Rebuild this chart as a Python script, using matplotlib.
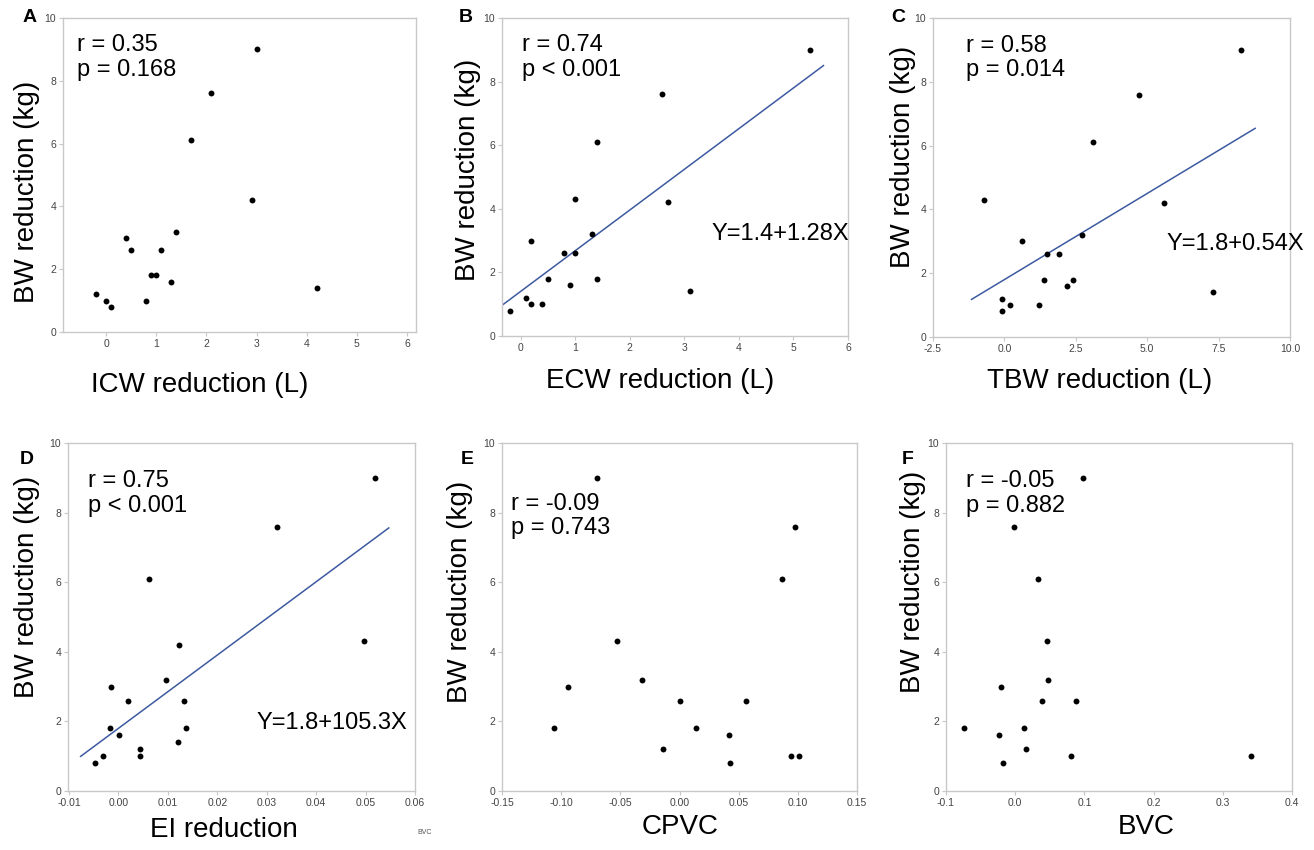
import numpy as np
import matplotlib.pyplot as plt

plt.rcParams['font.family'] = ['Liberation Sans', 'DejaVu Sans']

# Data
bw_a = [1.2, 1.0, 0.8, 3.0, 2.6, 1.0, 1.8, 1.8, 2.6, 1.6, 3.2, 6.1, 7.6, 4.2, 9.0, 1.4]
icw = [-0.2, 0.0, 0.1, 0.4, 0.5, 0.8, 0.9, 1.0, 1.1, 1.3, 1.4, 1.7, 2.1, 2.9, 3.0, 4.2]

bw_b = [0.8, 1.2, 1.0, 1.0, 3.0, 1.8, 2.6, 1.6, 2.6, 4.3, 3.2, 1.8, 6.1, 7.6, 4.2, 1.4, 9.0]
ecw = [-0.2, 0.1, 0.2, 0.4, 0.2, 0.5, 0.8, 0.9, 1.0, 1.0, 1.3, 1.4, 1.4, 2.6, 2.7, 3.1, 5.3]

bw_c = [4.3, 1.2, 0.8, 1.0, 3.0, 1.0, 1.8, 2.6, 2.6, 1.6, 1.8, 3.2, 6.1, 7.6, 4.2, 1.4, 9.0]
tbw = [-0.7, -0.1, -0.1, 0.2, 0.6, 1.2, 1.4, 1.5, 1.9, 2.2, 2.4, 2.7, 3.1, 4.7, 5.6, 7.3, 8.3]

bw_d = [0.8, 1.0, 3.0, 1.8, 1.6, 2.6, 1.2, 1.0, 6.1, 3.2, 1.4, 4.2, 2.6, 1.8, 7.6, 4.3, 9.0]
ei = [-0.0048, -0.0031, -0.0014, -0.0018, 0.0001, 0.0019, 0.0044, 0.0044, 0.0062,
      0.0097, 0.0121, 0.0123, 0.0133, 0.0136, 0.0320, 0.0497, 0.0519]

bw_e = [1.8, 3.0, 9.0, 4.3, 3.2, 1.2, 2.6, 1.8, 1.6, 0.8, 2.6, 6.1, 7.6, 1.0, 1.0]
cpvc = [-0.106, -0.094, -0.070, -0.053, -0.032, -0.014, 0.0, 0.014, 0.042, 0.043,
        0.056, 0.087, 0.098, 0.094, 0.101]

bw_f = [1.8, 1.6, 3.0, 0.8, 7.6, 1.8, 1.2, 6.1, 2.6, 4.3, 3.2, 1.0, 2.6, 9.0, 1.0]
bvc = [-0.074, -0.024, -0.020, -0.018, -0.002, 0.013, 0.016, 0.033, 0.039, 0.046,
       0.048, 0.080, 0.088, 0.098, 0.341]

W, H = 1314, 850
fig = plt.figure(figsize=(W / 100, H / 100), dpi=100)


def make_ax(x0, y0, x1, y1):
    ax = fig.add_axes([x0 / W, 1 - y1 / H, (x1 - x0) / W, (y1 - y0) / H])
    for s in ax.spines.values():
        s.set_color('#c8c8c8')
        s.set_linewidth(1.0)
    ax.tick_params(colors='#c8c8c8', labelcolor='#444444', labelsize=7.5,
                   length=3, width=0.8, pad=2)
    ax.set_ylim(0, 10)
    ax.set_yticks([0, 2, 4, 6, 8, 10])
    return ax


def px_text(x, y, s, **kw):
    fig.text(x / W, 1 - y / H, s, **kw)


panels = [
    dict(x=icw, y=bw_a, box=(63, 18, 416, 332), xlim=(-0.86, 6.18), xt=[0, 1, 2, 3, 4, 5, 6],
         fmt='{:.0f}', xl='ICW reduction (L)', xlpos=(200, 385), ylpos=(27, 192),
         st='r = 0.35\np = 0.168', stpos=(0.04, 0.875), let='A', letpos=(30, 18)),
    dict(x=ecw, y=bw_b, box=(502, 18, 848, 336), xlim=(-0.34, 6.0), xt=[0, 1, 2, 3, 4, 5, 6],
         fmt='{:.0f}', xl='ECW reduction (L)', xlpos=(660, 381), ylpos=(468, 170),
         st='r = 0.74\np < 0.001', stpos=(0.058, 0.875), let='B', letpos=(466, 18),
         fit=(1.4, 1.28, -0.34, 5.55), eq='Y=1.4+1.28X', eqpos=(1.003, 0.32)),
    dict(x=tbw, y=bw_c, box=(933, 18, 1290, 337), xlim=(-2.5, 10.0),
         xt=[-2.5, 0.0, 2.5, 5.0, 7.5, 10.0], fmt='{:.1f}', xl='TBW reduction (L)',
         xlpos=(1100, 381), ylpos=(903, 157),
         st='r = 0.58\np = 0.014', stpos=(0.092, 0.875), let='C', letpos=(898, 18),
         fit=(1.8, 0.54, -1.15, 8.78), eq='Y=1.8+0.54X', eqpos=(1.04, 0.293)),
    dict(x=ei, y=bw_d, box=(68, 443, 415, 791), xlim=(-0.0102, 0.06),
         xt=[-0.01, 0.0, 0.01, 0.02, 0.03, 0.04, 0.05, 0.06], fmt='{:.2f}', xl='EI reduction',
         xlpos=(224, 830), ylpos=(27, 587),
         st='r = 0.75\np < 0.001', stpos=(0.058, 0.855), let='D', letpos=(27, 460),
         fit=(1.8, 105.3, -0.00765, 0.0547), eq='Y=1.8+105.3X', eqpos=(0.977, 0.195)),
    dict(x=cpvc, y=bw_e, box=(502, 443, 857, 791), xlim=(-0.15, 0.15),
         xt=[-0.15, -0.10, -0.05, 0.0, 0.05, 0.10, 0.15], fmt='{:.2f}', xl='CPVC',
         xlpos=(680, 827), ylpos=(460, 592),
         st='r = -0.09\np = 0.743', stpos=(0.025, 0.79), let='E', letpos=(467, 460)),
    dict(x=bvc, y=bw_f, box=(946, 443, 1292, 791), xlim=(-0.1, 0.4),
         xt=[-0.1, 0.0, 0.1, 0.2, 0.3, 0.4], fmt='{:.1f}', xl='BVC',
         xlpos=(1146, 827), ylpos=(913, 582),
         st='r = -0.05\np = 0.882', stpos=(0.058, 0.855), let='F', letpos=(908, 460)),
]

for p in panels:
    ax = make_ax(*p['box'])
    ax.set_xlim(*p['xlim'])
    ax.set_xticks(p['xt'])
    ax.set_xticklabels([p['fmt'].format(v) for v in p['xt']])
    ax.scatter(p['x'], p['y'], s=18, color='black', zorder=3, linewidths=0)
    if 'fit' in p:
        a, b, x0, x1 = p['fit']
        xs = np.array([x0, x1])
        ax.plot(xs, a + b * xs, color='#3d5aa0', linewidth=1.1, zorder=2)
        ax.text(p['eqpos'][0], p['eqpos'][1], p['eq'], transform=ax.transAxes,
                ha='right', va='center', fontsize=17, clip_on=False)
    ax.text(p['stpos'][0], p['stpos'][1], p['st'], transform=ax.transAxes,
            ha='left', va='center', fontsize=17, linespacing=1.15)
    px_text(p['xlpos'][0], p['xlpos'][1], p['xl'], ha='center', va='center', fontsize=20)
    px_text(p['ylpos'][0], p['ylpos'][1], 'BW reduction (kg)', ha='center', va='center',
            fontsize=20, rotation=90)
    px_text(p['letpos'][0], p['letpos'][1], p['let'], ha='center', va='center',
            fontsize=14, fontweight='bold')

px_text(425, 832, 'BVC', ha='center', va='center', fontsize=5, color='#555555')

fig.savefig('out.png', dpi=100)
